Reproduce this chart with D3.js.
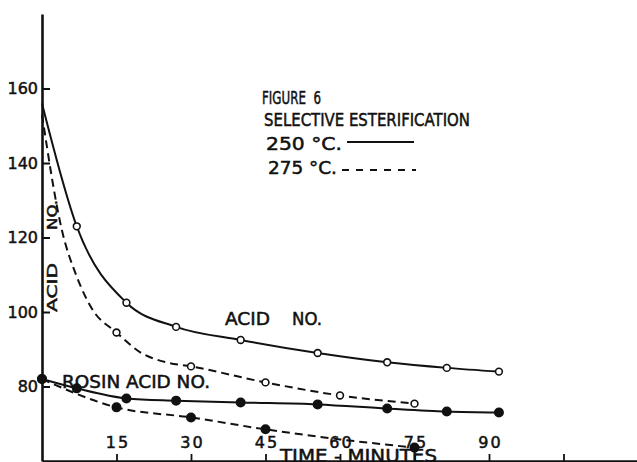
<!DOCTYPE html>
<html><head><meta charset="utf-8">
<script src="https://cdn.jsdelivr.net/npm/d3@7"></script>
<style>body{margin:0;background:#fff}svg{display:block}</style>
</head><body>
<script>
// ---- data ----
const acid250Time   = [0, 7, 17, 27, 40, 55.5, 69.5, 81.5, 92];
const acid250Value  = [156, 123, 102.5, 96, 92.5, 89, 86.5, 85, 84];
const acid250Marked = [false, true, true, true, true, true, true, true, true];

const rosin250Time   = [0, 7, 17, 27, 40, 55.5, 69.5, 81.5, 92];
const rosin250Value  = [82, 79.5, 76.8, 76.2, 75.7, 75.2, 74.1, 73.3, 73.0];
const rosin250Marked = [true, true, true, true, true, true, true, true, true];

const acid275Time   = [0, 4, 7, 10, 15, 20, 25, 30, 45, 60, 75];
const acid275Value  = [153, 122, 109.5, 101, 94.5, 89, 86.5, 85.4, 81.1, 77.6, 75.4];
const acid275Marked = [false, false, false, false, true, false, false, true, true, true, true];

const rosin275Time   = [0, 15, 30, 45, 60, 75];
const rosin275Value  = [82, 74.4, 71.7, 68.5, 65.8, 63.6];
const rosin275Marked = [true, true, true, true, false, true];

const xTickMarks  = [15, 30, 45, 60, 75, 90, 105];
const xTickLabels = [15, 30, 45, 60, 75, 90];
const yTicks      = [80, 100, 120, 140, 160];

const titleText  = "FIGURE  6";
const subtitle   = "SELECTIVE ESTERIFICATION";
const legend250  = "250 °C.";
const legend275  = "275 °C.";
const xAxisTitle = "TIME - MINUTES";
const yAxisWords = ["ACID", "NO."];
const acidLabel  = ["ACID", "NO."];
const rosinLabel = "ROSIN ACID NO.";

// ---- drawing ----
const W = 637, H = 462;
const FONT = "'DejaVu Sans', sans-serif";
const INK = "#111";
const svg = d3.select("body").append("svg").attr("width", W).attr("height", H)
  .style("background", "#fff");

const x = d3.scaleLinear().domain([0, 120]).range([42, 638]);
const y = d3.scaleLinear().domain([60, 180]).range([461, 14]);

const zip = (t, v, m) => t.map((d, i) => ({t: d, v: v[i], m: m[i]}));
const series = [
  {pts: zip(acid250Time, acid250Value, acid250Marked), dash: null, filled: false},
  {pts: zip(rosin250Time, rosin250Value, rosin250Marked), dash: null, filled: true},
  {pts: zip(acid275Time, acid275Value, acid275Marked), dash: "8,5", filled: false},
  {pts: zip(rosin275Time, rosin275Value, rosin275Marked), dash: "8,5", filled: true},
];

function ink(sel) {
  return sel.attr("font-family", FONT).attr("fill", INK)
    .attr("stroke", INK).attr("stroke-width", 0.5);
}

// axes
const yAxis = svg.append("g").attr("transform", `translate(${x(0)},0)`)
  .call(d3.axisLeft(y).tickValues(yTicks).tickSize(-8).tickSizeOuter(0).tickPadding(4));
yAxis.select(".domain").attr("stroke", INK).attr("stroke-width", 2.6);
yAxis.selectAll(".tick line").attr("stroke", INK).attr("stroke-width", 2);
ink(yAxis.selectAll("text")).attr("font-size", 16);

const xAxis = svg.append("g").attr("transform", `translate(0,${y(60)})`)
  .call(d3.axisTop(x).tickValues(xTickMarks).tickSize(7).tickSizeOuter(0).tickPadding(6)
    .tickFormat(d => xTickLabels.includes(d) ? String(d) : ""));
xAxis.select(".domain").attr("stroke", INK).attr("stroke-width", 2.6);
xAxis.selectAll(".tick line").attr("stroke", INK).attr("stroke-width", 1.8);
ink(xAxis.selectAll("text")).attr("font-size", 16)
  .attr("letter-spacing", 2).attr("dx", 1);

// curves
const line = d3.line().x(d => x(d.t)).y(d => y(d.v)).curve(d3.curveMonotoneX);
series.forEach(s => {
  svg.append("path").attr("d", line(s.pts)).attr("fill", "none")
    .attr("stroke", INK).attr("stroke-width", 2)
    .attr("stroke-dasharray", s.dash);
  svg.selectAll(null).data(s.pts.filter(p => p.m)).enter().append("circle")
    .attr("cx", d => x(d.t)).attr("cy", d => y(d.v))
    .attr("r", s.filled ? 4.2 : 3.4)
    .attr("fill", s.filled ? INK : "#fff")
    .attr("stroke", INK).attr("stroke-width", 1.6);
});

// text helpers
function txt(str, xx, yy, len, size) {
  const t = ink(svg.append("text").attr("x", xx).attr("y", yy).text(str))
    .attr("font-size", size || 17).style("white-space", "pre");
  if (len) t.attr("textLength", len).attr("lengthAdjust", "spacingAndGlyphs");
  return t;
}

// legend block
txt(titleText, 262, 104, 59);
txt(subtitle, 264, 126, 206);
txt(legend250, 266, 150, 76);
txt(legend275, 268, 174, 69);
svg.append("line").attr("x1", 347).attr("x2", 414).attr("y1", 142).attr("y2", 142)
  .attr("stroke", INK).attr("stroke-width", 2);
svg.append("line").attr("x1", 342).attr("x2", 416).attr("y1", 170).attr("y2", 170)
  .attr("stroke", INK).attr("stroke-width", 2).attr("stroke-dasharray", "7,7");

// curve labels
txt(acidLabel[0], 225, 325, 45);
txt(acidLabel[1], 292, 325, 30);
txt(rosinLabel, 62, 388, 148);

// axis titles
txt(xAxisTitle, 280, 462, 157);
ink(svg.append("text").attr("transform", "translate(57,312) rotate(-90)").text(yAxisWords[0]))
  .attr("font-size", 14)
  .attr("textLength", 49).attr("lengthAdjust", "spacingAndGlyphs");
ink(svg.append("text").attr("transform", "translate(57,230) rotate(-90)").text(yAxisWords[1]))
  .attr("font-size", 14)
  .attr("textLength", 30).attr("lengthAdjust", "spacingAndGlyphs");
</script>
</body></html>
